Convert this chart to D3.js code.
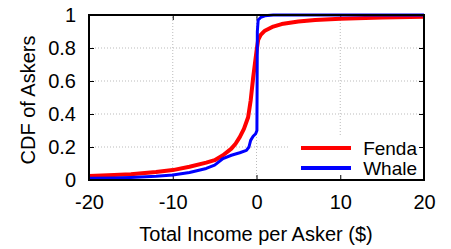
<!DOCTYPE html>
<html>
<head>
<meta charset="utf-8">
<script src="https://cdn.jsdelivr.net/npm/d3@7/dist/d3.min.js"></script>
<style>
  body { margin: 0; background: #fff; }
  text { font-family: "Liberation Sans", Arial, sans-serif; fill: #000; }
</style>
</head>
<body>
<svg id="chart"></svg>
<script>
const width = 451;
const height = 249;
const margin = {top: 15, right: 27, bottom: 69, left: 89};

// curves: income ($) and CDF value
const fendaX = [-20, -17, -15, -12, -10, -8, -6, -5, -4, -3, -2.5, -2, -1.5, -1, -0.7, -0.4, -0.2, 0, 0.2, 0.5, 1, 2, 3, 5, 7, 10, 15, 20];
const fendaY = [0.025, 0.03, 0.035, 0.048, 0.06, 0.08, 0.105, 0.12, 0.15, 0.19, 0.22, 0.26, 0.31, 0.38, 0.48, 0.62, 0.7, 0.78, 0.85, 0.88, 0.905, 0.93, 0.945, 0.96, 0.97, 0.978, 0.985, 0.99];
const whaleX = [-20, -17, -15, -12, -10, -8, -6, -5, -4.5, -4, -3, -2, -1.2, -0.9, -0.7, -0.4, -0.1, 0.05, 0.1, 0.2, 0.5, 1, 2, 20];
const whaleY = [0.01, 0.012, 0.015, 0.022, 0.03, 0.045, 0.07, 0.09, 0.11, 0.13, 0.15, 0.165, 0.18, 0.2, 0.24, 0.265, 0.28, 0.3, 0.9, 0.97, 0.985, 0.995, 1, 1];

const xTicks = [-20, -10, 0, 10, 20];
const yTicks = [0, 0.2, 0.4, 0.6, 0.8, 1];
const series = [
  {name: 'Fenda', xs: fendaX, ys: fendaY, color: '#ff0000', w: 4},
  {name: 'Whale', xs: whaleX, ys: whaleY, color: '#0000ff', w: 3}
];

const svg = d3.select('#chart')
  .attr('width', width)
  .attr('height', height);

const x = d3.scaleLinear()
  .domain([-20, 20])
  .range([margin.left, width - margin.right]);

const y = d3.scaleLinear()
  .domain([0, 1])
  .range([height - margin.bottom, margin.top]);

// grid
const grid = svg.append('g')
  .attr('stroke', '#bbb')
  .attr('stroke-width', 1)
  .attr('stroke-dasharray', '1,2');

grid.selectAll('.gy')
  .data(yTicks.slice(1, -1))
  .enter()
  .append('line')
  .attr('x1', x(-20))
  .attr('x2', x(20))
  .attr('y1', d => y(d))
  .attr('y2', d => y(d));

grid.selectAll('.gx')
  .data(xTicks.slice(1, -1))
  .enter()
  .append('line')
  .attr('x1', d => x(d))
  .attr('x2', d => x(d))
  .attr('y1', y(0))
  .attr('y2', y(1));

// legend background hides the grid under the key
svg.append('rect')
  .attr('x', 288)
  .attr('y', 137)
  .attr('width', x(20) - 288)
  .attr('height', y(0) - 137)
  .attr('fill', '#fff');

// axes, ticks pointing inward and mirrored; plain hyphen for negatives
const fmt = d => String(d);
const tick = 5;
svg.append('g')
  .attr('transform', `translate(0, ${y(0)})`)
  .call(d3.axisBottom(x).tickValues(xTicks).tickSize(-tick).tickPadding(15).tickFormat(fmt))
  .call(g => g.select('.domain').remove());
svg.append('g')
  .attr('transform', `translate(0, ${y(1)})`)
  .call(d3.axisTop(x).tickValues(xTicks).tickSize(-tick).tickFormat(''))
  .call(g => g.select('.domain').remove());
svg.append('g')
  .attr('transform', `translate(${x(-20)}, 0)`)
  .call(d3.axisLeft(y).tickValues(yTicks).tickSize(-tick).tickPadding(13).tickFormat(fmt))
  .call(g => g.select('.domain').remove());
svg.append('g')
  .attr('transform', `translate(${x(20)}, 0)`)
  .call(d3.axisRight(y).tickValues(yTicks).tickSize(-tick).tickFormat(''))
  .call(g => g.select('.domain').remove());

svg.selectAll('.tick line').attr('stroke', '#000').attr('stroke-width', 1);
svg.selectAll('.tick text')
  .attr('font-size', 20)
  .attr('font-family', '"Liberation Sans", Arial, sans-serif');

// curves
const line = d3.line()
  .x(d => x(d[0]))
  .y(d => y(d[1]));

svg.append('g')
  .selectAll('path')
  .data(series)
  .enter()
  .append('path')
  .attr('d', d => line(d.xs.map((v, i) => [v, d.ys[i]])))
  .attr('fill', 'none')
  .attr('stroke', d => d.color)
  .attr('stroke-width', d => d.w)
  .attr('stroke-linejoin', 'round');

// border
svg.append('rect')
  .attr('x', x(-20))
  .attr('y', y(1))
  .attr('width', x(20) - x(-20))
  .attr('height', y(0) - y(1))
  .attr('fill', 'none')
  .attr('stroke', '#000')
  .attr('stroke-width', 2);

// legend
const legend = svg.append('g')
  .selectAll('g')
  .data(series)
  .enter()
  .append('g')
  .attr('transform', (d, i) => `translate(0, ${148 + i * 20})`);

legend.append('line')
  .attr('x1', 301)
  .attr('x2', 351)
  .attr('stroke', d => d.color)
  .attr('stroke-width', 4);

legend.append('text')
  .attr('x', 417)
  .attr('y', 7)
  .attr('text-anchor', 'end')
  .attr('font-size', 19)
  .text(d => d.name);

// axis titles
svg.append('text')
  .attr('x', 256)
  .attr('y', 241)
  .attr('text-anchor', 'middle')
  .attr('font-size', 20)
  .text('Total Income per Asker ($)');

svg.append('text')
  .attr('transform', 'translate(35, 100) rotate(-90)')
  .attr('text-anchor', 'middle')
  .attr('font-size', 20)
  .text('CDF of Askers');
</script>
</body>
</html>
